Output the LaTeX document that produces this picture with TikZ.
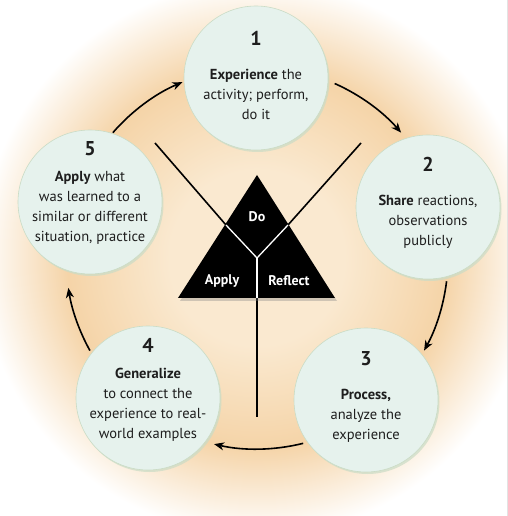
\documentclass[tikz,border=0pt]{standalone}
\usepackage{fontspec}
\setmainfont{PT Sans}
\usetikzlibrary{arrows.meta,shadows}

\definecolor{mint}{RGB}{230,242,237}
\definecolor{rim}{RGB}{202,220,198}
\definecolor{peachin}{RGB}{250,233,208}
\definecolor{peachmid}{RGB}{245,212,168}
\definecolor{ink}{RGB}{30,30,30}
\pgfdeclareradialshading{glow}{\pgfpoint{0bp}{0bp}}{color(0bp)=(peachin); color(6bp)=(peachin); color(13bp)=(peachmid); color(19bp)=(white); color(50bp)=(white)}

\newcommand{\cnum}[1]{{\bfseries\fontsize{20}{20}\selectfont #1}}

\tikzset{
  bubble/.style={circle, fill=mint, draw=rim, line width=.6pt, minimum size=144pt, inner sep=0pt,
    drop shadow={shadow xshift=1.5pt, shadow yshift=-2pt, fill=rim, opacity=.7}},
  txt/.style={align=center, text=ink, font=\fontsize{14.5}{20}\selectfont},
  cyc/.style={-{Stealth[length=10pt,width=8pt,inset=3pt]}, line width=1.6pt},
  spoke/.style={line width=1.6pt},
  split/.style={white, line width=1.3pt},
  trilabel/.style={text=white, font=\bfseries\fontsize{14}{14}\selectfont}
}

\begin{document}
\begin{tikzpicture}[x=1pt, y=1pt]
        \clip(-257,-258) rectangle (250,258);
        \fill[shading=glow](0,0) circle (365);

        % the triangle
        \coordinate (top) at (0,83);
        \coordinate (bl) at (-79,-40);
        \coordinate (br) at (78,-40);
        \coordinate (mid) at (0,0);
        \coordinate (jl) at (-31,33);
        \coordinate (jr) at (31,33);
        \coordinate (jb) at (0,-40);
        \coordinate (el) at (-102,115);
        \coordinate (er) at (104,115);
        \coordinate (eb) at (0,-159);

        \draw[spoke](el) to (jl);
        \draw[spoke](er) to (jr);
        \draw[spoke](jb) to (eb);
        \fill[black, drop shadow={shadow xshift=2pt, shadow yshift=-3pt, opacity=.35}](top) -- (bl) -- (br) -- cycle;
        \draw[split](jl) to (mid);
        \draw[split](jr) to (mid);
        \draw[split](mid) to (jb);

        \node[trilabel] (do) at (0,41){Do};
        \node[trilabel] (apply) at (-35,-23){Apply};
        \node[trilabel] (reflect) at (32,-23){Reflect};

        % the five circles
        \node[bubble] (c1) at (-1,180){};
        \node[bubble] (c2) at (171,51){};
        \node[bubble] (c3) at (109,-142){};
        \node[bubble] (c4) at (-109,-140){};
        \node[bubble] (c5) at (-167,56){};

        \node[txt] (t1) at (-1,183){\cnum{1}\\[14pt]\textbf{Experience} the\\activity; perform,\\do it};
        \node[txt] (t2) at (171,55){\cnum{2}\\[14pt]\textbf{Share} reactions,\\observations\\publicly};
        \node[txt] (t3) at (109,-139){\cnum{3}\\[14pt]\textbf{Process,}\\analyze the\\experience};
        \node[txt] (t4) at (-109,-132){\cnum{4}\\[6pt]\textbf{Generalize}\\to connect the\\experience to real-\\world examples};
        \node[txt] (t5) at (-167,65){\cnum{5}\\[6pt]\textbf{Apply} what\\was learned to a\\similar or different\\situation, practice};

        % the cycle
        \coordinate (a51) at (139:191);
        \coordinate (a12) at (66:191);
        \coordinate (a23) at (-7:191);
        \coordinate (a34) at (-76:191);
        \coordinate (a45) at (209:191);

        \draw[cyc](a51) arc[start angle=139, end angle=113, radius=191];
        \draw[cyc](a12) arc[start angle=66, end angle=41, radius=191];
        \draw[cyc](a23) arc[start angle=-7, end angle=-29, radius=191];
        \draw[cyc](a34) arc[start angle=-76, end angle=-103, radius=191];
        \draw[cyc](a45) arc[start angle=209, end angle=189, radius=191];
\end{tikzpicture}
\end{document}
